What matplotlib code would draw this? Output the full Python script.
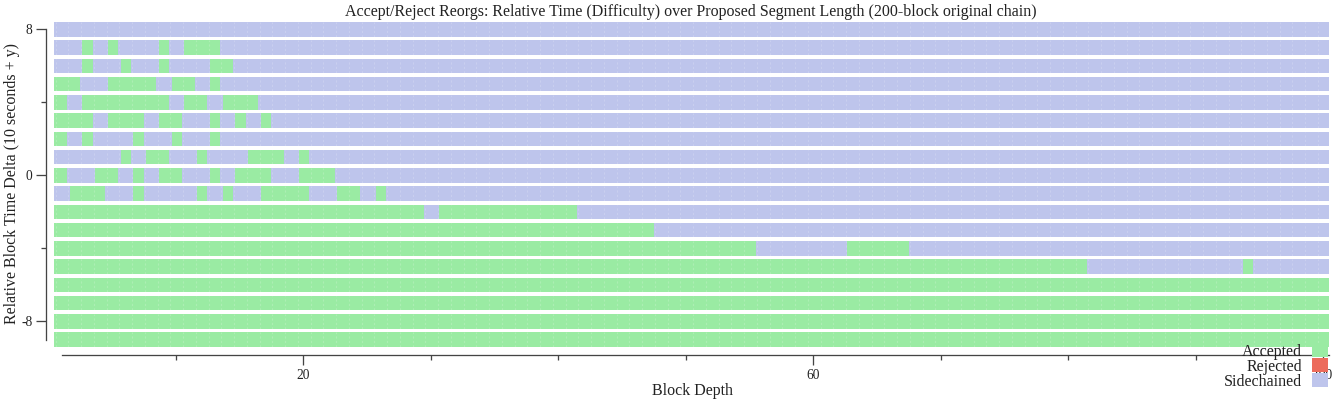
import matplotlib
matplotlib.use("Agg")
import matplotlib.pyplot as plt
from matplotlib.patches import Patch

# ---------------- data ----------------
title = "Accept/Reject Reorgs: Relative Time (Difficulty) over Proposed Segment Length (200-block original chain)"
x_label = "Block Depth"
y_label = "Relative Block Time Delta (10 seconds + y)"
status_names = ["Accepted", "Rejected", "Sidechained"]
status_colors = ["#9aeba3", "#ec6b5c", "#bec5ec"]

x_major = [20, 60, 100]
x_minor = [10, 30, 40, 50, 70, 80, 90]
y_major = [8, 0, -8]
y_minor = [4, -4]

chain_start = 0.5
# each row: (status code, segment end on the Block Depth axis); A=Accepted, S=Sidechained
row_p8 = [("S", 100.5)]
row_p7 = [("S", 2.7), ("A", 3.5), ("S", 4.7), ("A", 5.5), ("S", 8.7), ("A", 9.5), ("S", 10.7), ("A", 13.5), ("S", 100.5)]
row_p6 = [("S", 2.7), ("A", 3.5), ("S", 5.7), ("A", 6.5), ("S", 8.7), ("A", 9.5), ("S", 12.7), ("A", 14.5), ("S", 100.5)]
row_p5 = [("A", 2.5), ("S", 4.7), ("A", 8.5), ("S", 9.7), ("A", 11.5), ("S", 12.7), ("A", 13.5), ("S", 100.5)]
row_p4 = [("A", 1.5), ("S", 2.7), ("A", 9.5), ("S", 10.7), ("A", 12.5), ("S", 13.7), ("A", 16.5), ("S", 100.5)]
row_p3 = [("A", 3.5), ("S", 4.7), ("A", 7.5), ("S", 8.7), ("A", 10.5), ("S", 12.7), ("A", 13.5), ("S", 14.7),
          ("A", 15.5), ("S", 16.7), ("A", 17.5), ("S", 100.5)]
row_p2 = [("A", 1.5), ("S", 2.7), ("A", 3.5), ("S", 6.7), ("A", 7.5), ("S", 9.7), ("A", 10.5), ("S", 12.7),
          ("A", 13.5), ("S", 100.5)]
row_p1 = [("S", 5.7), ("A", 6.5), ("S", 7.7), ("A", 9.5), ("S", 11.7), ("A", 12.5), ("S", 15.7), ("A", 18.5),
          ("S", 19.7), ("A", 20.5), ("S", 100.5)]
row_0 = [("A", 1.5), ("S", 3.7), ("A", 5.5), ("S", 6.7), ("A", 7.5), ("S", 8.7), ("A", 10.5), ("S", 12.7),
         ("A", 13.5), ("S", 14.7), ("A", 17.5), ("S", 19.7), ("A", 22.5), ("S", 100.5)]
row_m1 = [("S", 1.7), ("A", 4.5), ("S", 6.7), ("A", 7.5), ("S", 11.7), ("A", 12.5), ("S", 13.7), ("A", 14.5),
          ("S", 16.7), ("A", 20.5), ("S", 22.7), ("A", 24.5), ("S", 25.7), ("A", 26.5), ("S", 100.5)]
row_m2 = [("A", 29.5), ("S", 30.7), ("A", 41.5), ("S", 100.5)]
row_m3 = [("A", 47.5), ("S", 100.5)]
row_m4 = [("A", 55.5), ("S", 62.7), ("A", 67.5), ("S", 100.5)]
row_m5 = [("A", 81.5), ("S", 93.7), ("A", 94.5), ("S", 100.5)]
row_m6 = [("A", 100.5)]
row_m7 = [("A", 100.5)]
row_m8 = [("A", 100.5)]
row_m9 = [("A", 100.5)]

row_values = [8, 7, 6, 5, 4, 3, 2, 1, 0, -1, -2, -3, -4, -5, -6, -7, -8, -9]
row_data = [row_p8, row_p7, row_p6, row_p5, row_p4, row_p3, row_p2, row_p1, row_0,
            row_m1, row_m2, row_m3, row_m4, row_m5, row_m6, row_m7, row_m8, row_m9]

# ---------------- style ----------------
W, H, DPI = 1333, 400, 100
PX = 72.0 / DPI  # points per pixel
FONT = ["Liberation Serif", "DejaVu Serif"]
plt.rcParams["font.family"] = FONT
AXC = "#444444"

code_color = {"A": status_colors[0], "R": status_colors[1], "S": status_colors[2]}

fig = plt.figure(figsize=(W / DPI, H / DPI), dpi=DPI)
ax_left_px, ax_right_px, ax_top_px, ax_bot_px = 48, 1333, 20, 348
ax = fig.add_axes([ax_left_px / W, 1 - ax_bot_px / H,
                   (ax_right_px - ax_left_px) / W, (ax_bot_px - ax_top_px) / H])

# x: px = 48 + 12.75 * x ; y: px = 175.3 - 18.25 * y
ax.set_xlim(0, (ax_right_px - ax_left_px) / 12.75)
ax.set_ylim((175.3 - ax_bot_px) / 18.25, (175.3 - ax_top_px) / 18.25)

bar_h = 0.8
for yv, segs in zip(row_values, row_data):
    start = chain_start
    for code, end in segs:
        ax.barh(yv, end - start, left=start, height=bar_h, color=code_color[code],
                linewidth=0, zorder=2)
        start = end
    # faint cell separators
    ax.vlines([k + 0.6 for k in range(0, 100)], yv - bar_h / 2, yv + bar_h / 2,
              colors="white", alpha=0.18, linewidth=0.8, linestyles=(0, (2, 2)), zorder=3)

# spines
for s in ["top", "right"]:
    ax.spines[s].set_visible(False)
ax.spines["left"].set_position(("outward", 2.3 * PX))
ax.spines["left"].set_bounds(-9, 8)
ax.spines["bottom"].set_position(("outward", 7 * PX))
ax.spines["bottom"].set_bounds(1.1, 100.5)
for s in ["left", "bottom"]:
    ax.spines[s].set_color(AXC)
    ax.spines[s].set_linewidth(1.3 * PX)

ax.set_xticks(x_major)
ax.set_xticks(x_minor, minor=True)
ax.set_yticks(y_major)
ax.set_yticks(y_minor, minor=True)
ax.set_xticklabels([str(v) for v in x_major])
ax.set_yticklabels([str(v) for v in y_major])
ax.tick_params(which="major", length=10 * PX, width=1.3 * PX, color=AXC,
               labelsize=13.5 * PX, labelcolor="#222222")
ax.tick_params(which="minor", length=5 * PX, width=1.3 * PX, color=AXC)
ax.tick_params(axis="x", which="major", pad=4 * PX)
ax.tick_params(axis="y", which="major", pad=3.3 * PX)

fig.text(691 / W, 1 - 16 / H, title, ha="center", va="baseline", fontsize=16 * PX, color="#222222")
fig.text(693 / W, 1 - 395 / H, x_label, ha="center", va="baseline", fontsize=16 * PX, color="#222222")
fig.text(12 / W, 1 - 183 / H, y_label, ha="center", va="center", rotation=90,
         fontsize=16 * PX, color="#222222")

handles = [Patch(facecolor=c, edgecolor="none", label=n) for n, c in zip(status_names, status_colors)]
leg = fig.legend(handles=handles, loc="lower right", bbox_to_anchor=(1327.7 / W, (H - 389.5) / H),
                 frameon=False, markerfirst=False, fontsize=16 * PX, handlelength=0.96,
                 handleheight=0.96, handletextpad=0.66, labelspacing=-0.1, borderpad=0,
                 borderaxespad=0)
for t in leg.get_texts():
    t.set_color("#222222")

fig.savefig("out.png", dpi=DPI)
